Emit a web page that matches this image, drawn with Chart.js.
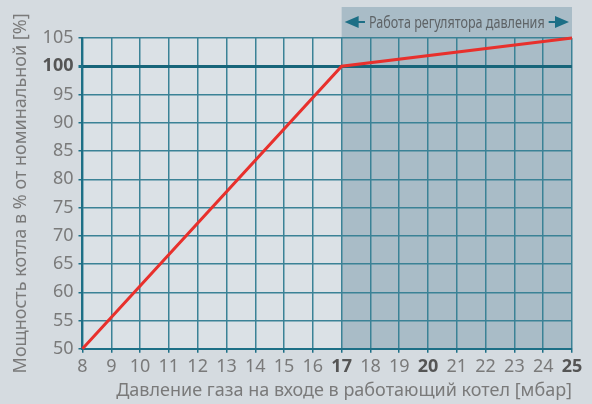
<!DOCTYPE html>
<html>
<head>
<meta charset="UTF-8">
<title>Мощность котла</title>
<script src="https://cdn.jsdelivr.net/npm/chart.js"></script>
<style>
  body { margin: 0; background: #d5dbe0; }
  #wrap { width: 592px; height: 404px; }
</style>
</head>
<body>
<div id="wrap"><canvas id="grafico"></canvas></div>
<script>
// давление газа [мбар] и мощность [%]
const davlenie = [8, 17, 25];
const moshnost = [50, 100, 105];
const boldX = [17, 20, 25];
const boldY = [100];
const zonaRegulyatora = [17, 25];
const zonaTekst = 'Работа регулятора давления';

const teal = '#1d6f86';
const gridTeal = '#3b8296';
const gray = '#7a7a7a';
const shrift = '"Noto Sans", sans-serif';

// фон области графика и затенённая зона регулятора
const zonaPlugin = {
  id: 'zona',
  beforeDraw(chart) {
    const { ctx, chartArea: a, scales: { x } } = chart;
    ctx.save();
    ctx.fillStyle = '#dbe1e6';
    ctx.fillRect(a.left, a.top, a.right - a.left, a.bottom - a.top);
    const x1 = x.getPixelForValue(zonaRegulyatora[0]);
    const x2 = x.getPixelForValue(zonaRegulyatora[1]);
    ctx.fillStyle = '#a9bcc7';
    ctx.fillRect(x1, 7, x2 - x1, a.bottom - 7);
    ctx.restore();
  },
  afterDraw(chart) {
    const { ctx, scales: { x } } = chart;
    const x1 = x.getPixelForValue(zonaRegulyatora[0]);
    const x2 = x.getPixelForValue(zonaRegulyatora[1]);
    const cy = 22;
    const cx = (x1 + x2) / 2;
    ctx.save();
    // узкий шрифт: сжимаем по горизонтали
    const sx = 0.74;
    ctx.font = '17px ' + shrift;
    const w = ctx.measureText(zonaTekst).width * sx;
    ctx.save();
    ctx.translate(cx, cy + 1);
    ctx.scale(sx, 1);
    ctx.textAlign = 'center';
    ctx.textBaseline = 'middle';
    ctx.fillStyle = '#5e6366';
    ctx.fillText(zonaTekst, 0, 0);
    ctx.restore();
    // стрелки
    ctx.strokeStyle = teal;
    ctx.fillStyle = teal;
    ctx.lineWidth = 2;
    const l = cx - w / 2 - 4, r = cx + w / 2 + 4;
    ctx.beginPath();
    ctx.moveTo(x1 + 14, cy); ctx.lineTo(l, cy);
    ctx.moveTo(r, cy); ctx.lineTo(x2 - 14, cy);
    ctx.stroke();
    ctx.beginPath();
    ctx.moveTo(x1 + 3, cy); ctx.lineTo(x1 + 17, cy - 6); ctx.lineTo(x1 + 17, cy + 6); ctx.closePath();
    ctx.moveTo(x2 - 3, cy); ctx.lineTo(x2 - 17, cy - 6); ctx.lineTo(x2 - 17, cy + 6); ctx.closePath();
    ctx.fill();
    ctx.restore();
  }
};

new Chart(document.getElementById('grafico'), {
  type: 'line',
  data: {
    datasets: [{
      data: davlenie.map((d, i) => ({ x: d, y: moshnost[i] })),
      borderColor: '#e8302c',
      borderWidth: 3,
      pointRadius: 0,
      tension: 0,
      clip: false
    }]
  },
  options: {
    responsive: true,
    maintainAspectRatio: false,
    animation: false,
    layout: { padding: { top: 38, right: 20, left: 10, bottom: 2 } },
    plugins: { legend: { display: false }, tooltip: { enabled: false } },
    scales: {
      x: {
        type: 'linear', min: 8, max: 25,
        border: { color: teal, width: 2 },
        grid: { color: gridTeal, lineWidth: 1.5, tickLength: 4, tickColor: teal },
        ticks: {
          stepSize: 1, color: c => boldX.includes(c.tick && c.tick.value) ? '#555' : gray, padding: 3,
          font: c => ({ family: shrift, size: 18,
            weight: boldX.includes(c.tick && c.tick.value) ? 'bold' : 'normal' })
        },
        title: {
          display: true, align: 'end', text: 'Давление газа на входе в работающий котел [мбар]',
          color: gray, padding: { top: 0, bottom: 0 },
          font: { family: shrift, size: 18 }
        }
      },
      y: {
        min: 50, max: 105,
        border: { color: teal, width: 2 },
        grid: {
          color: c => boldY.includes(c.tick && c.tick.value) ? '#17657a' : gridTeal,
          lineWidth: c => boldY.includes(c.tick && c.tick.value) ? 3 : 1.5,
          tickLength: 4, tickColor: teal
        },
        ticks: {
          stepSize: 5, color: c => boldY.includes(c.tick && c.tick.value) ? '#555' : gray, padding: 5,
          font: c => ({ family: shrift, size: 18,
            weight: boldY.includes(c.tick && c.tick.value) ? 'bold' : 'normal' })
        },
        title: {
          display: true, text: 'Мощность котла в % от номинальной [%]',
          color: gray, padding: { top: 0, bottom: 6 },
          font: { family: shrift, size: 18 }
        }
      }
    }
  },
  plugins: [zonaPlugin]
});
</script>
</body>
</html>
